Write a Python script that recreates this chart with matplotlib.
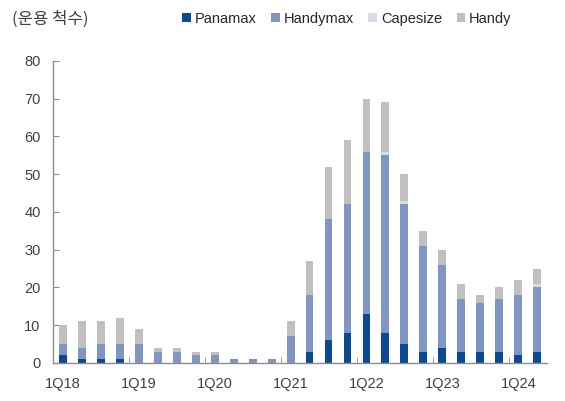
import matplotlib
matplotlib.use("Agg")
import matplotlib.pyplot as plt
import numpy as np

plt.rcParams['font.family'] = ['Liberation Sans', 'Noto Sans CJK KR', 'DejaVu Sans']

quarters = ['1Q18', '2Q18', '3Q18', '4Q18',
            '1Q19', '2Q19', '3Q19', '4Q19',
            '1Q20', '2Q20', '3Q20', '4Q20',
            '1Q21', '2Q21', '3Q21', '4Q21',
            '1Q22', '2Q22', '3Q22', '4Q22',
            '1Q23', '2Q23', '3Q23', '4Q23',
            '1Q24', '2Q24']

panamax  = [2, 1, 1, 1, 0, 0, 0, 0, 0, 0, 0, 0, 0, 3, 6, 8, 13, 8, 5, 3, 4, 3, 3, 3, 2, 3]
handymax = [3, 3, 4, 4, 5, 3, 3, 2, 2, 1, 1, 1, 7, 15, 32, 34, 43, 47, 37, 28, 22, 14, 13, 14, 16, 17]
capesize = [0, 0, 0, 0, 0, 0, 0, 0, 0, 0, 0, 0, 0, 0, 0, 0, 0, 1, 1, 0, 0, 0, 0, 0, 0, 1]
handy    = [5, 7, 6, 7, 4, 1, 1, 1, 1, 0, 0, 0, 4, 9, 14, 17, 14, 13, 7, 4, 4, 4, 2, 3, 4, 4]

series = [('Panamax', panamax, '#0b4a92'),
          ('Handymax', handymax, '#7f95c2'),
          ('Capesize', capesize, '#d6dde9'),
          ('Handy', handy, '#c0c0c0')]

fig = plt.figure(figsize=(5.65, 4.01), dpi=100)
ax = fig.add_axes([0.094, 0.095, 0.874, 0.753])

x = np.arange(len(quarters))
bottom = np.zeros(len(quarters))
for name, vals, color in series:
    ax.bar(x, vals, width=0.42, bottom=bottom, color=color, label=name, linewidth=0)
    bottom += np.array(vals)

ax.set_xlim(-0.5, len(quarters) - 0.5)
ax.set_ylim(0, 80)
ax.set_yticks(np.arange(0, 81, 10))
ax.set_xticks(x[::4])
ax.set_xticklabels(quarters[::4])
ax.set_xticks(np.arange(3.5, len(quarters), 4), minor=True)

for s in ['top', 'right']:
    ax.spines[s].set_visible(False)
for s in ['left', 'bottom']:
    ax.spines[s].set_color('#8c8c8c')
    ax.spines[s].set_linewidth(1.0)

ax.tick_params(axis='y', direction='in', length=4, color='#8c8c8c', labelsize=10.5,
               labelcolor='#404040', pad=9)
ax.tick_params(axis='x', which='major', length=0, labelsize=10.5, labelcolor='#404040', pad=10)
ax.tick_params(axis='x', which='minor', direction='in', length=4, color='#8c8c8c')

fig.text(0.021, 0.952, '(운용 척수)', fontsize=12, color='#404040',
         family=['Noto Sans CJK KR', 'DejaVu Sans'], va='center')

ax.legend(loc='center right', bbox_to_anchor=(0.94, 1.139), ncol=4, frameon=False,
          fontsize=10.5, handlelength=0.6, handleheight=0.6, handletextpad=0.25,
          columnspacing=1.0, labelcolor='#262626', borderaxespad=0)

fig.savefig('out.png', dpi=100)
